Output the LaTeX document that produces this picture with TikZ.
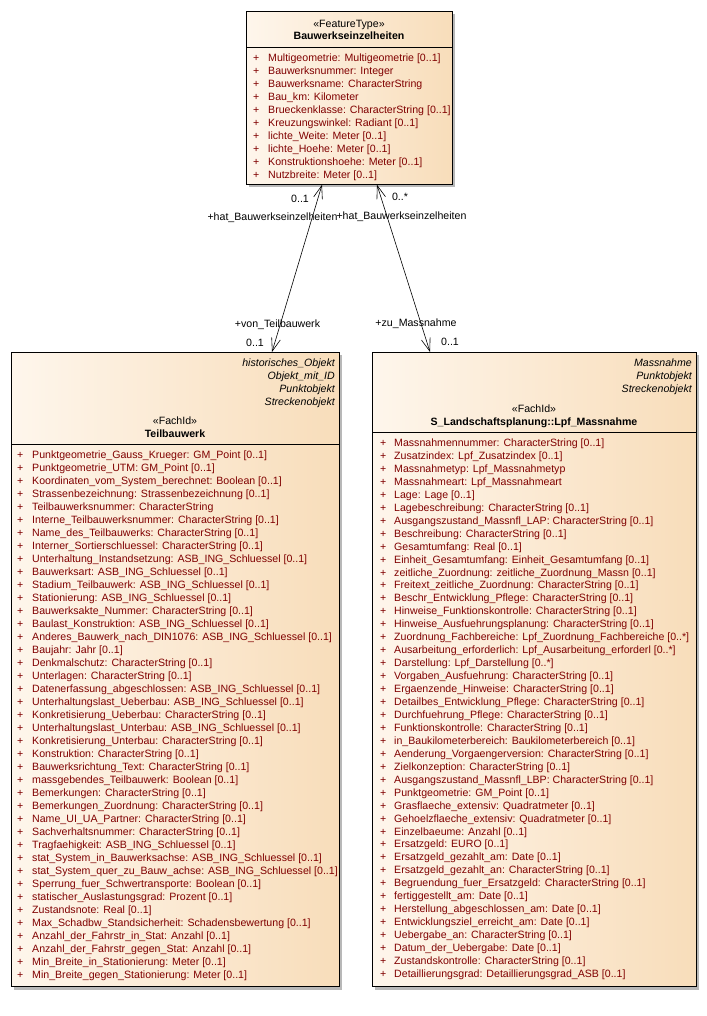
\documentclass[tikz,border=0pt]{standalone}
\usepackage{fontspec}
\setmainfont[Ligatures=CommonOff]{Liberation Sans}
\usetikzlibrary{arrows.meta,positioning}

\definecolor{attrred}{RGB}{128,0,0}
\definecolor{boxleft}{RGB}{254,246,236}
\definecolor{boxright}{RGB}{248,221,186}

\begin{document}
\begin{tikzpicture}[x=1pt, y=-1pt, font=\fontsize{10.6}{13}\selectfont,
  class/.style={rectangle, draw, line width=0.8pt, inner sep=0pt, anchor=north west, left color=boxleft, right color=boxright},
  shadowbox/.style={fill=black!28, draw=none},
  attr/.style={anchor=base west, text=attrred, inner sep=0pt},
  stereo/.style={anchor=base east, inner sep=0pt, font=\fontsize{10.6}{13}\selectfont\itshape},
  title/.style={anchor=base, inner sep=0pt},
  role/.style={anchor=base, inner sep=0pt},
  assoc/.style={draw, line width=0.6pt, {Straight Barb[length=13pt,width=9pt]}-{Straight Barb[length=13pt,width=9pt]}}]
  \useasboundingbox (0,0) rectangle (706,1016);

  \fill[shadowbox] (249,14) rectangle (455,187);
  \fill[shadowbox] (14,355) rectangle (342,990);
  \fill[shadowbox] (375,355) rectangle (699,990);

  \node[class, minimum width=206pt, minimum height=173pt] (be) at (246,11) {};
  \node[class, minimum width=328pt, minimum height=634pt] (tb) at (11,352) {};
  \node[class, minimum width=324pt, minimum height=634pt] (lm) at (372,352) {};

  \node[title] (be-st) at (349,28) {«FeatureType»};
  \node[title, font=\fontsize{10.6}{13}\selectfont\bfseries] (be-name) at (349,40) {Bauwerkseinzelheiten};
  \draw[line width=0.8pt] (be.west |- 0,47) -- (be.east |- 0,47);
  \foreach \a [count=\i from 0] in {Multigeometrie: Multigeometrie [0..1], Bauwerksnummer: Integer, Bauwerksname: CharacterString, Bau\_km: Kilometer, Brueckenklasse: CharacterString [0..1], Kreuzungswinkel: Radiant [0..1], lichte\_Weite: Meter [0..1], lichte\_Hoehe: Meter [0..1], Konstruktionshoehe: Meter [0..1], Nutzbreite: Meter [0..1]}
  {
    \node[attr] (be-p\i) at (253,62+12.9*\i) {+};
    \node[attr] (be-a\i) at (268,62+12.9*\i) {\a};
  }

  \node[stereo] (tb-s1) at (335,366) {historisches\_Objekt};
  \node[stereo] (tb-s2) at (335,379) {Objekt\_mit\_ID};
  \node[stereo] (tb-s3) at (335,392) {Punktobjekt};
  \node[stereo] (tb-s4) at (335,405) {Streckenobjekt};
  \node[title] (tb-st) at (175,424) {«FachId»};
  \node[title, font=\fontsize{10.6}{13}\selectfont\bfseries] (tb-name) at (175,437) {Teilbauwerk};
  \draw[line width=0.8pt] (tb.west |- 0,444) -- (tb.east |- 0,444);
  \foreach \a [count=\i from 0] in {Punktgeometrie\_Gauss\_Krueger: GM\_Point [0..1], Punktgeometrie\_UTM: GM\_Point [0..1], Koordinaten\_vom\_System\_berechnet: Boolean [0..1], Strassenbezeichnung: Strassenbezeichnung [0..1], Teilbauwerksnummer: CharacterString, Interne\_Teilbauwerksnummer: CharacterString [0..1], Name\_des\_Teilbauwerks: CharacterString [0..1], Interner\_Sortierschluessel: CharacterString [0..1], Unterhaltung\_Instandsetzung: ASB\_ING\_Schluessel [0..1], Bauwerksart: ASB\_ING\_Schluessel [0..1], Stadium\_Teilbauwerk: ASB\_ING\_Schluessel [0..1], Stationierung: ASB\_ING\_Schluessel [0..1], Bauwerksakte\_Nummer: CharacterString [0..1], Baulast\_Konstruktion: ASB\_ING\_Schluessel [0..1], Anderes\_Bauwerk\_nach\_DIN1076: ASB\_ING\_Schluessel [0..1], Baujahr: Jahr [0..1], Denkmalschutz: CharacterString [0..1], Unterlagen: CharacterString [0..1], Datenerfassung\_abgeschlossen: ASB\_ING\_Schluessel [0..1], Unterhaltungslast\_Ueberbau: ASB\_ING\_Schluessel [0..1], Konkretisierung\_Ueberbau: CharacterString [0..1], Unterhaltungslast\_Unterbau: ASB\_ING\_Schluessel [0..1], Konkretisierung\_Unterbau: CharacterString [0..1], Konstruktion: CharacterString [0..1], Bauwerksrichtung\_Text: CharacterString [0..1], massgebendes\_Teilbauwerk: Boolean [0..1], Bemerkungen: CharacterString [0..1], Bemerkungen\_Zuordnung: CharacterString [0..1], Name\_UI\_UA\_Partner: CharacterString [0..1], Sachverhaltsnummer: CharacterString [0..1], Tragfaehigkeit: ASB\_ING\_Schluessel [0..1], stat\_System\_in\_Bauwerksachse: ASB\_ING\_Schluessel [0..1], stat\_System\_quer\_zu\_Bauw\_achse: ASB\_ING\_Schluessel [0..1], Sperrung\_fuer\_Schwertransporte: Boolean [0..1], statischer\_Auslastungsgrad: Prozent [0..1], Zustandsnote: Real [0..1], Max\_Schadbw\_Standsicherheit: Schadensbewertung [0..1], Anzahl\_der\_Fahrstr\_in\_Stat: Anzahl [0..1], Anzahl\_der\_Fahrstr\_gegen\_Stat: Anzahl [0..1], Min\_Breite\_in\_Stationierung: Meter [0..1], Min\_Breite\_gegen\_Stationierung: Meter [0..1]}
  {
    \node[attr] (tb-p\i) at (17,458+13*\i) {+};
    \node[attr] (tb-a\i) at (32,458+13*\i) {\a};
  }

  \node[stereo] (lm-s1) at (692,366) {Massnahme};
  \node[stereo] (lm-s2) at (692,379) {Punktobjekt};
  \node[stereo] (lm-s3) at (692,392) {Streckenobjekt};
  \node[title] (lm-st) at (534,412) {«FachId»};
  \node[title, font=\fontsize{10.6}{13}\selectfont\bfseries] (lm-name) at (534,425) {S\_Landschaftsplanung::Lpf\_Massnahme};
  \draw[line width=0.8pt] (lm.west |- 0,432) -- (lm.east |- 0,432);
  \foreach \a [count=\i from 0] in {Massnahmennummer: CharacterString [0..1], Zusatzindex: Lpf\_Zusatzindex [0..1], Massnahmetyp: Lpf\_Massnahmetyp, Massnahmeart: Lpf\_Massnahmeart, Lage: Lage [0..1], Lagebeschreibung: CharacterString [0..1], Ausgangszustand\_Massnfl\_LAP: CharacterString [0..1], Beschreibung: CharacterString [0..1], Gesamtumfang: Real [0..1], Einheit\_Gesamtumfang: Einheit\_Gesamtumfang [0..1], zeitliche\_Zuordnung: zeitliche\_Zuordnung\_Massn [0..1], Freitext\_zeitliche\_Zuordnung: CharacterString [0..1], Beschr\_Entwicklung\_Pflege: CharacterString [0..1], Hinweise\_Funktionskontrolle: CharacterString [0..1], Hinweise\_Ausfuehrungsplanung: CharacterString [0..1], Zuordnung\_Fachbereiche: Lpf\_Zuordnung\_Fachbereiche [0..*], Ausarbeitung\_erforderlich: Lpf\_Ausarbeitung\_erforderl [0..*], Darstellung: Lpf\_Darstellung [0..*], Vorgaben\_Ausfuehrung: CharacterString [0..1], Ergaenzende\_Hinweise: CharacterString [0..1], Detailbes\_Entwicklung\_Pflege: CharacterString [0..1], Durchfuehrung\_Pflege: CharacterString [0..1], Funktionskontrolle: CharacterString [0..1], in\_Baukilometerbereich: Baukilometerbereich [0..1], Aenderung\_Vorgaengerversion: CharacterString [0..1], Zielkonzeption: CharacterString [0..1], Ausgangszustand\_Massnfl\_LBP: CharacterString [0..1], Punktgeometrie: GM\_Point [0..1], Grasflaeche\_extensiv: Quadratmeter [0..1], Gehoelzflaeche\_extensiv: Quadratmeter [0..1], Einzelbaeume: Anzahl [0..1], Ersatzgeld: EURO [0..1], Ersatzgeld\_gezahlt\_am: Date [0..1], Ersatzgeld\_gezahlt\_an: CharacterString [0..1], Begruendung\_fuer\_Ersatzgeld: CharacterString [0..1], fertiggestellt\_am: Date [0..1], Herstellung\_abgeschlossen\_am: Date [0..1], Entwicklungsziel\_erreicht\_am: Date [0..1], Uebergabe\_an: CharacterString [0..1], Datum\_der\_Uebergabe: Date [0..1], Zustandskontrolle: CharacterString [0..1], Detaillierungsgrad: Detaillierungsgrad\_ASB [0..1]}
  {
    \node[attr] (lm-p\i) at (380,446.5+12.95*\i) {+};
    \node[attr] (lm-a\i) at (394,446.5+12.95*\i) {\a};
  }

  \coordinate (be-l) at (be.south -| 322,0);
  \coordinate (be-r) at (be.south -| 377,0);
  \coordinate (tb-t) at (tb.north -| 272,0);
  \coordinate (lm-t) at (lm.north -| 430,0);
  \draw[assoc] (be-l) -- (tb-t);
  \draw[assoc] (be-r) -- (lm-t);

  \node[role] (r1) at (300,203) {0..1};
  \node[role] (r2) at (272.5,221) {+hat\_Bauwerkseinzelheiten};
  \node[role] (r3) at (401.5,220) {+hat\_Bauwerkseinzelheiten};
  \node[role] (r4) at (400,201) {0..*};
  \node[role] (r5) at (277.5,327) {+von\_Teilbauwerk};
  \node[role] (r6) at (255,346) {0..1};
  \node[role] (r7) at (416,326) {+zu\_Massnahme};
  \node[role] (r8) at (450,345) {0..1};
\end{tikzpicture}
\end{document}
